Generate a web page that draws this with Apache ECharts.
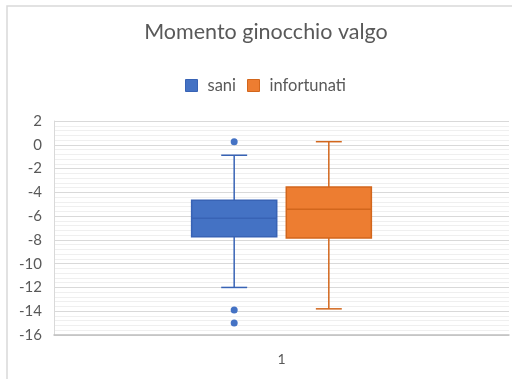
<!DOCTYPE html>
<html>
<head>
<meta charset="utf-8">
<script src="https://cdn.jsdelivr.net/npm/echarts@6/dist/echarts.min.js"></script>
<style>
  html, body { margin: 0; padding: 0; background: #fff; }
  #chart { width: 512px; height: 379px; }
</style>
</head>
<body>
<div id="chart"></div>
<script>
// Categories on the x axis
const categories = ['1'];
// Five-number summaries: [min whisker, Q1, median, Q3, max whisker]
const saniBox = [-12.0, -7.74, -6.18, -4.66, -0.88];
const infortunatiBox = [-13.8, -7.85, -5.42, -3.56, 0.26];
// Points beyond the whiskers
const saniOutliers = [0.26, -13.9, -15.0];
const infortunatiOutliers = [];
// Value axis ticks
const yTicks = { min: -16, max: 2, interval: 2 };

const FONT = 'Lato, "Open Sans", sans-serif';
const TEXT = '#595959';

// Draws a box with whiskers, shifted sideways inside the category band
function boxRenderer(offsetFrac, widthFrac, capFrac, fill, stroke) {
  return function (params, api) {
    const cat = api.value(0);
    const band = api.size([1, 0])[0];
    const cx = api.coord([cat, 0])[0] + offsetFrac * band;
    const half = widthFrac * band / 2;
    const capHalf = capFrac * band / 2;
    const y = (i) => api.coord([cat, api.value(i)])[1];
    const yMin = y(1), yQ1 = y(2), yMed = y(3), yQ3 = y(4), yMax = y(5);
    const line = { stroke: stroke, lineWidth: 1.5 };
    return {
      type: 'group',
      children: [
        { type: 'line', shape: { x1: cx, y1: yQ3, x2: cx, y2: yMax }, style: line },
        { type: 'line', shape: { x1: cx, y1: yQ1, x2: cx, y2: yMin }, style: line },
        { type: 'line', shape: { x1: cx - capHalf, y1: yMax, x2: cx + capHalf, y2: yMax }, style: line },
        { type: 'line', shape: { x1: cx - capHalf, y1: yMin, x2: cx + capHalf, y2: yMin }, style: line },
        { type: 'rect', shape: { x: cx - half, y: yQ3, width: half * 2, height: yQ1 - yQ3 },
          style: { fill: fill, stroke: stroke, lineWidth: 1.5 } },
        { type: 'line', shape: { x1: cx - half, y1: yMed, x2: cx + half, y2: yMed }, style: line }
      ]
    };
  };
}

// Draws single outlier dots with the same sideways shift as their box
function dotRenderer(offsetFrac, fill) {
  return function (params, api) {
    const cat = api.value(0);
    const band = api.size([1, 0])[0];
    const p = api.coord([cat, api.value(1)]);
    return {
      type: 'circle',
      shape: { cx: p[0] + offsetFrac * band, cy: p[1], r: 3.5 },
      style: { fill: fill }
    };
  };
}

const BLUE = '#4472C4', BLUE_EDGE = '#3863B5';
const ORANGE = '#ED7D31', ORANGE_EDGE = '#D2661C';
const OFFSET = 0.104, WIDTH = 0.187, CAP = 0.057;

const chart = echarts.init(document.getElementById('chart'), null, { renderer: 'canvas' });
chart.setOption({
  animation: false,
  backgroundColor: '#fff',
  title: {
    text: 'Momento ginocchio valgo',
    left: 261, top: 16, textAlign: 'center',
    textStyle: { fontFamily: FONT, fontSize: 21.5, fontWeight: 'normal', color: TEXT }
  },
  legend: {
    top: 72, left: 180,
    itemWidth: 12, itemHeight: 12, itemGap: 11,
    icon: 'rect',
    textStyle: { fontFamily: FONT, fontSize: 16.5, color: TEXT, padding: [0, 0, 0, 5] },
    data: [
      { name: 'sani', itemStyle: { color: BLUE, borderColor: BLUE_EDGE, borderWidth: 1 } },
      { name: 'infortunati', itemStyle: { color: ORANGE, borderColor: ORANGE_EDGE, borderWidth: 1 } }
    ]
  },
  graphic: [
    { type: 'polyline', shape: { points: [[7, 379], [7, 6], [512, 6]] },
      style: { stroke: '#d9d9d9', lineWidth: 1.5, fill: null }, silent: true }
  ],
  grid: { left: 54, right: 3, top: 121, bottom: 44 },
  xAxis: {
    type: 'category',
    data: categories,
    axisLine: { show: true, onZero: false, lineStyle: { color: '#bfbfbf', width: 1.5 } },
    axisTick: { show: false },
    axisLabel: { fontFamily: FONT, fontSize: 14, color: TEXT, margin: 17 },
    splitLine: { show: false }
  },
  yAxis: {
    type: 'value',
    min: yTicks.min, max: yTicks.max, interval: yTicks.interval,
    axisLine: { show: true, lineStyle: { color: '#d9d9d9', width: 1 } },
    axisTick: { show: false },
    axisLabel: { fontFamily: FONT, fontSize: 15, color: TEXT, margin: 12 },
    splitLine: { show: true, lineStyle: { color: '#d9d9d9', width: 1 } },
    minorTick: { show: false, splitNumber: 5 },
    minorSplitLine: { show: true, lineStyle: { color: '#efefef', width: 1 } }
  },
  series: [
    {
      name: 'sani', type: 'custom',
      renderItem: boxRenderer(-OFFSET, WIDTH, CAP, BLUE, BLUE_EDGE),
      encode: { x: 0, y: [1, 2, 3, 4, 5] },
      itemStyle: { color: BLUE },
      data: categories.map((c, i) => [i].concat(saniBox)),
      z: 3
    },
    {
      name: 'infortunati', type: 'custom',
      renderItem: boxRenderer(OFFSET, WIDTH, CAP, ORANGE, ORANGE_EDGE),
      encode: { x: 0, y: [1, 2, 3, 4, 5] },
      itemStyle: { color: ORANGE },
      data: categories.map((c, i) => [i].concat(infortunatiBox)),
      z: 3
    },
    {
      name: 'sani', type: 'custom',
      renderItem: dotRenderer(-OFFSET, BLUE),
      encode: { x: 0, y: 1 },
      data: saniOutliers.map(v => [0, v]),
      z: 4
    },
    {
      name: 'infortunati', type: 'custom',
      renderItem: dotRenderer(OFFSET, ORANGE),
      encode: { x: 0, y: 1 },
      data: infortunatiOutliers.map(v => [0, v]),
      z: 4
    }
  ]
});
</script>
</body>
</html>
